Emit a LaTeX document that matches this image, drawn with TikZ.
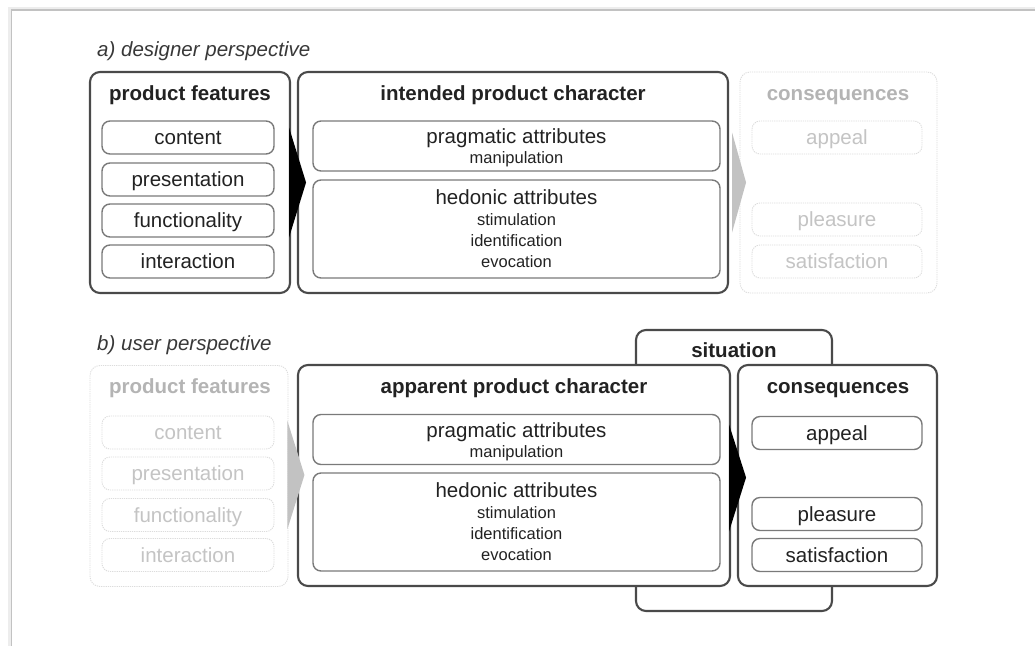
\documentclass[tikz,border=0pt]{standalone}
\usepackage{fontspec}
\setmainfont{Liberation Sans}
\usetikzlibrary{calc}
\definecolor{ink}{HTML}{222222}
\definecolor{edge}{HTML}{4A4A4A}
\definecolor{inneredge}{HTML}{7A7A7A}
\definecolor{fadeedge}{HTML}{DCDCDC}
\definecolor{fadetitle}{HTML}{B4B4B4}
\definecolor{fadetext}{HTML}{C4C4C4}
\definecolor{fadearrow}{HTML}{C2C2C2}
\newcommand{\bigtxt}{\fontsize{20.5}{24}\selectfont}
\newcommand{\smalltxt}{\fontsize{16.5}{19}\selectfont}
\tikzset{
  x=1pt, y=1pt,
  bigline/.style={font=\bigtxt, text height=18.5pt, text depth=4.5pt},
  smallline/.style={font=\smalltxt, text height=14pt, text depth=3.6pt},
  outerbox/.style={draw=edge, line width=2.1pt, rounded corners=10pt, fill=white,
    minimum height=221pt, inner sep=0pt},
  fadebox/.style={draw=fadeedge, line width=0.9pt, dash pattern=on 1.2pt off 1pt,
    rounded corners=10pt, fill=white, minimum height=221pt, inner sep=0pt},
  itembox/.style={draw=inneredge, line width=1.4pt, rounded corners=8pt, fill=white,
    minimum height=33pt, inner sep=0pt, bigline, text=ink},
  fadeitem/.style={draw=fadeedge, line width=0.9pt, dash pattern=on 1.2pt off 1pt,
    rounded corners=8pt, fill=white, minimum height=33pt, inner sep=0pt,
    bigline, text=fadetext},
  attrbox/.style={draw=inneredge, line width=1.4pt, rounded corners=8pt, fill=white,
    minimum width=407pt, inner sep=0pt},
  boxtitle/.style={bigline, font=\bigtxt\bfseries, text=ink, inner sep=0pt},
  fadetitlestyle/.style={bigline, font=\bigtxt\bfseries, text=fadetitle, inner sep=0pt},
  attrhead/.style={bigline, text=ink, inner sep=0pt},
  attrsub/.style={smallline, text=ink, inner sep=0pt},
  parthead/.style={bigline, font=\bigtxt\itshape, text=black!78, inner sep=0pt, anchor=west},
  darkarrow/.style={fill=black},
  lightarrow/.style={fill=fadearrow},
}
\begin{document}
\begin{tikzpicture}
\useasboundingbox (0,0) rectangle (1035,-646);
\fill[white] (0,0) rectangle (1035,-646);
% page frame with soft shadow
\draw[line width=3pt, black!7] (9.5,-646) -- (9.5,-8.5) -- (1035,-8.5);
\draw[line width=1.2pt, black!24] (11.5,-646) -- (11.5,-10) -- (1035,-10);

% ---------- a) designer perspective ----------
\node[parthead] (headA) at (97,-49) {a) designer perspective};

\node[outerbox, minimum width=200pt] (pfA) at (190,-182.5) {};
\node[boxtitle] (pfAt) at (190,-93) {product features};
\node[itembox, minimum width=172pt] (contentA) at (188,-137.5) {content};
\node[itembox, minimum width=172pt] (presA) at (188,-179.5) {presentation};
\node[itembox, minimum width=172pt] (funcA) at (188,-220.5) {functionality};
\node[itembox, minimum width=172pt] (interA) at (188,-261.5) {interaction};

\node[outerbox, minimum width=430pt] (ipcA) at (513,-182.5) {};
\node[boxtitle] (ipcAt) at (513,-93) {intended product character};
\node[attrbox, minimum height=50pt] (pragA) at (516.5,-146) {};
\node[attrhead] (pragAt) at ([yshift=-16.5]pragA.north) {pragmatic attributes};
\node[attrsub] (pragA1) at ([yshift=-38]pragA.north) {manipulation};
\node[attrbox, minimum height=98pt] (hedA) at (516.5,-229) {};
\node[attrhead] (hedAt) at ([yshift=-18.5]hedA.north) {hedonic attributes};
\node[attrsub] (hedA1) at ([yshift=-41]hedA.north) {stimulation};
\node[attrsub] (hedA2) at ([yshift=-62]hedA.north) {identification};
\node[attrsub] (hedA3) at ([yshift=-83]hedA.north) {evocation};

\node[fadebox, minimum width=197pt] (consA) at (838.5,-182.5) {};
\node[fadetitlestyle] (consAt) at (838,-93) {consequences};
\node[fadeitem, minimum width=170pt] (appealA) at (837,-137.5) {appeal};
\node[fadeitem, minimum width=170pt] (pleasA) at (837,-219.5) {pleasure};
\node[fadeitem, minimum width=170pt] (satisA) at (837,-261.5) {satisfaction};

% flow arrows
\fill[darkarrow] ($(pfA.east)+(-2,55)$) -- ($(pfA.east)+(15,0)$) -- ($(pfA.east)+(-2,-55)$) -- cycle;
\fill[lightarrow] ($(ipcA.east)+(3,50)$) -- ($(ipcA.east)+(17,0)$) -- ($(ipcA.east)+(3,-50)$) -- cycle;

% ---------- b) user perspective ----------
\node[parthead] (headB) at (97,-343) {b) user perspective};

\node[outerbox, minimum width=196pt, minimum height=281pt] (sitB) at (734,-470.5) {};
\node[boxtitle] (sitBt) at (734,-350) {situation};

\node[fadebox, minimum width=198pt] (pfB) at (189,-476) {};
\node[fadetitlestyle] (pfBt) at (190,-386) {product features};
\node[fadeitem, minimum width=172pt] (contentB) at (188,-432.5) {content};
\node[fadeitem, minimum width=172pt] (presB) at (188,-473.5) {presentation};
\node[fadeitem, minimum width=172pt] (funcB) at (188,-515) {functionality};
\node[fadeitem, minimum width=172pt] (interB) at (188,-555) {interaction};

\node[outerbox, minimum width=432pt] (apcB) at (514,-475.5) {};
\node[boxtitle] (apcBt) at (514,-386) {apparent product character};
\node[attrbox, minimum height=50pt] (pragB) at (516.5,-439.5) {};
\node[attrhead] (pragBt) at ([yshift=-16.5]pragB.north) {pragmatic attributes};
\node[attrsub] (pragB1) at ([yshift=-38]pragB.north) {manipulation};
\node[attrbox, minimum height=98pt] (hedB) at (516.5,-522) {};
\node[attrhead] (hedBt) at ([yshift=-18.5]hedB.north) {hedonic attributes};
\node[attrsub] (hedB1) at ([yshift=-41]hedB.north) {stimulation};
\node[attrsub] (hedB2) at ([yshift=-62]hedB.north) {identification};
\node[attrsub] (hedB3) at ([yshift=-83]hedB.north) {evocation};

\node[outerbox, minimum width=199pt] (consB) at (837.5,-475.5) {};
\node[boxtitle] (consBt) at (838,-386) {consequences};
\node[itembox, minimum width=170pt] (appealB) at (837,-433) {appeal};
\node[itembox, minimum width=170pt] (pleasB) at (837,-514) {pleasure};
\node[itembox, minimum width=170pt] (satisB) at (837,-555) {satisfaction};

% flow arrows
\fill[lightarrow] ($(pfB.east)+(-1,55)$) -- ($(pfB.east)+(16,1)$) -- ($(pfB.east)+(-1,-53)$) -- cycle;
\fill[darkarrow] ($(apcB.east)+(-2,51)$) -- ($(apcB.east)+(15,-2)$) -- ($(apcB.east)+(-2,-56)$) -- cycle;
\end{tikzpicture}
\end{document}
